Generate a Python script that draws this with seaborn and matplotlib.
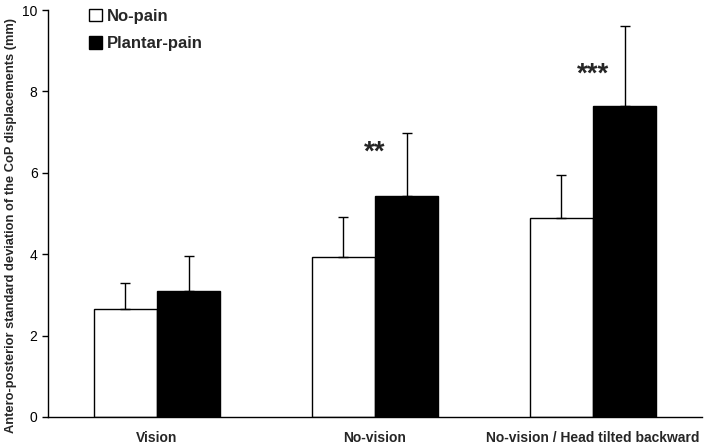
import pandas as pd
import seaborn as sns
import matplotlib.pyplot as plt

# Values
conditions = ['Vision', 'No-vision', 'No-vision / Head tilted backward']
groups = ['No-pain', 'Plantar-pain']
no_pain = [2.65, 3.93, 4.88]
plantar_pain = [3.10, 5.43, 7.65]
no_pain_sd = [0.65, 0.98, 1.07]
plantar_pain_sd = [0.86, 1.55, 1.95]
stars = ['', '**', '***']
star_y = [0, 6.5, 8.4]

df = pd.DataFrame({
    'condition': conditions * 2,
    'group': [groups[0]] * 3 + [groups[1]] * 3,
    'value': no_pain + plantar_pain,
})

sns.set_style('white')
plt.rcParams['font.family'] = ['Liberation Sans', 'DejaVu Sans']

fig = plt.figure(figsize=(7.06, 4.46), dpi=100)
ax = fig.add_axes([48 / 706, 1 - 417 / 446, (702 - 48) / 706, (417 - 10) / 446])

sns.barplot(data=df, x='condition', y='value', hue='group', order=conditions,
            hue_order=groups, palette=['white', 'black'], width=0.58,
            edgecolor='black', linewidth=1.0, errorbar=None, ax=ax)

# Upward-only error bars centred on each bar
for container, sds in zip(ax.containers, [no_pain_sd, plantar_pain_sd]):
    xs = [p.get_x() + p.get_width() / 2 for p in container.patches]
    hs = [p.get_height() for p in container.patches]
    ax.errorbar(xs, hs, yerr=[[0] * len(sds), sds], fmt='none',
                ecolor='black', elinewidth=1.0, capsize=3.5, capthick=1.0)

for i, s in enumerate(stars):
    if s:
        ax.text(i, star_y[i], s, ha='center', va='center', fontsize=20,
                fontweight='bold')

ax.set_xlim(-0.5, 2.5)
ax.set_ylim(0, 10)
ax.set_yticks([0, 2, 4, 6, 8, 10])
ax.tick_params(axis='y', direction='out', length=4, width=1, labelsize=10,
               left=True, colors='black')
ax.tick_params(axis='x', length=0, labelsize=10, pad=10)
for lab in ax.get_xticklabels():
    lab.set_fontweight('bold')
ax.set_xlabel('')
ax.set_ylabel('Antero-posterior standard deviation of the CoP displacements (mm)',
              fontsize=9.3, fontweight='bold')
ax.yaxis.set_label_coords(-0.047, 0.47)
sns.despine(ax=ax)
for sp in ['left', 'bottom']:
    ax.spines[sp].set_color('black')
    ax.spines[sp].set_linewidth(1.0)

leg = ax.legend(loc='upper left', bbox_to_anchor=(0.04, 1.04), frameon=False,
                prop={'weight': 'bold', 'size': 12}, handlelength=0.75,
                handleheight=0.75, handletextpad=0.3, labelspacing=0.75)

plt.savefig('out.png', dpi=100)
